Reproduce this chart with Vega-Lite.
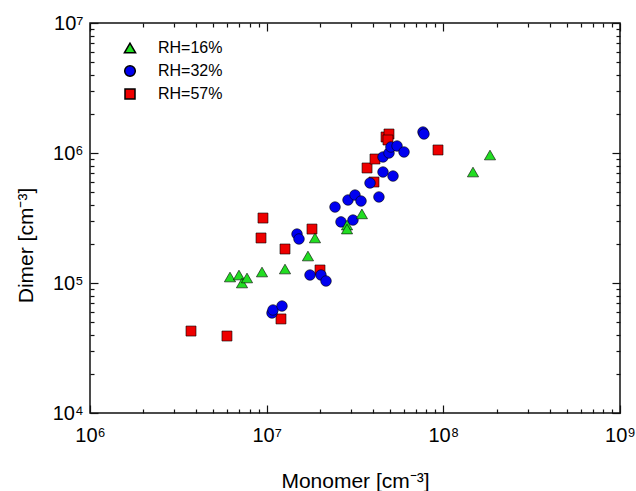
{
  "$schema": "https://vega.github.io/schema/vega-lite/v6.json",
  "width": 530,
  "height": 390,
  "autosize": "none",
  "padding": {"left": 90, "top": 23, "right": 16, "bottom": 78},
  "background": "white",
  "config": {
    "view": {"stroke": "#111", "strokeWidth": 1.5},
    "axis": {"grid": false, "domain": false, "tickColor": "#111", "tickWidth": 1.2, "labelFont": "Liberation Sans", "titleFont": "Liberation Sans", "labelColor": "#000", "titleColor": "#000", "labelFlush": false, "labelOverlap": false}
  },
  "datasets": {
    "pts": [
      {"rh": "RH=57%", "monomer": 3.73e6, "dimer": 4.27e4},
      {"rh": "RH=57%", "monomer": 5.96e6, "dimer": 3.91e4},
      {"rh": "RH=57%", "monomer": 9.29e6, "dimer": 2.22e5},
      {"rh": "RH=57%", "monomer": 9.53e6, "dimer": 3.16e5},
      {"rh": "RH=57%", "monomer": 1.205e7, "dimer": 5.29e4},
      {"rh": "RH=57%", "monomer": 1.27e7, "dimer": 1.826e5},
      {"rh": "RH=57%", "monomer": 1.805e7, "dimer": 2.6e5},
      {"rh": "RH=57%", "monomer": 2.004e7, "dimer": 1.259e5},
      {"rh": "RH=57%", "monomer": 3.7e7, "dimer": 7.67e5},
      {"rh": "RH=57%", "monomer": 4.104e7, "dimer": 8.99e5},
      {"rh": "RH=57%", "monomer": 4.05e7, "dimer": 5.98e5},
      {"rh": "RH=57%", "monomer": 4.74e7, "dimer": 1.328e6},
      {"rh": "RH=57%", "monomer": 4.925e7, "dimer": 1.4e6},
      {"rh": "RH=57%", "monomer": 4.86e7, "dimer": 1.259e6},
      {"rh": "RH=57%", "monomer": 9.33e7, "dimer": 1.055e6},
      {"rh": "RH=32%", "monomer": 1.072e7, "dimer": 5.88e4},
      {"rh": "RH=32%", "monomer": 1.086e7, "dimer": 6.2e4},
      {"rh": "RH=32%", "monomer": 1.221e7, "dimer": 6.65e4},
      {"rh": "RH=32%", "monomer": 1.485e7, "dimer": 2.38e5},
      {"rh": "RH=32%", "monomer": 1.524e7, "dimer": 2.18e5},
      {"rh": "RH=32%", "monomer": 1.759e7, "dimer": 1.152e5},
      {"rh": "RH=32%", "monomer": 2.03e7, "dimer": 1.152e5},
      {"rh": "RH=32%", "monomer": 2.167e7, "dimer": 1.036e5},
      {"rh": "RH=32%", "monomer": 2.437e7, "dimer": 3.84e5},
      {"rh": "RH=32%", "monomer": 2.634e7, "dimer": 2.95e5},
      {"rh": "RH=32%", "monomer": 3.08e7, "dimer": 3.05e5},
      {"rh": "RH=32%", "monomer": 2.887e7, "dimer": 4.35e5},
      {"rh": "RH=32%", "monomer": 3.162e7, "dimer": 4.75e5},
      {"rh": "RH=32%", "monomer": 3.42e7, "dimer": 4.27e5},
      {"rh": "RH=32%", "monomer": 3.845e7, "dimer": 5.88e5},
      {"rh": "RH=32%", "monomer": 4.32e7, "dimer": 4.59e5},
      {"rh": "RH=32%", "monomer": 4.555e7, "dimer": 7.14e5},
      {"rh": "RH=32%", "monomer": 5.19e7, "dimer": 6.65e5},
      {"rh": "RH=32%", "monomer": 4.555e7, "dimer": 9.32e5},
      {"rh": "RH=32%", "monomer": 4.925e7, "dimer": 1.0e6},
      {"rh": "RH=32%", "monomer": 5.05e7, "dimer": 1.112e6},
      {"rh": "RH=32%", "monomer": 5.47e7, "dimer": 1.132e6},
      {"rh": "RH=32%", "monomer": 5.99e7, "dimer": 1.018e6},
      {"rh": "RH=32%", "monomer": 7.67e7, "dimer": 1.45e6},
      {"rh": "RH=32%", "monomer": 7.77e7, "dimer": 1.4e6},
      {"rh": "RH=16%", "monomer": 6.2e6, "dimer": 1.112e5},
      {"rh": "RH=16%", "monomer": 6.97e6, "dimer": 1.152e5},
      {"rh": "RH=16%", "monomer": 7.25e6, "dimer": 1.0e5},
      {"rh": "RH=16%", "monomer": 7.74e6, "dimer": 1.093e5},
      {"rh": "RH=16%", "monomer": 9.41e6, "dimer": 1.215e5},
      {"rh": "RH=16%", "monomer": 1.27e7, "dimer": 1.281e5},
      {"rh": "RH=16%", "monomer": 1.713e7, "dimer": 1.613e5},
      {"rh": "RH=16%", "monomer": 1.877e7, "dimer": 2.22e5},
      {"rh": "RH=16%", "monomer": 2.85e7, "dimer": 2.79e5},
      {"rh": "RH=16%", "monomer": 2.85e7, "dimer": 2.6e5},
      {"rh": "RH=16%", "monomer": 3.46e7, "dimer": 3.4e5},
      {"rh": "RH=16%", "monomer": 1.472e8, "dimer": 7.14e5},
      {"rh": "RH=16%", "monomer": 1.837e8, "dimer": 9.65e5}
    ]
  },
  "data": {"name": "pts"},
  "resolve": {"axis": {"x": "independent", "y": "independent"}},
  "layer": [
    {
      "mark": {"type": "point", "filled": true, "opacity": 1, "stroke": "#000", "strokeWidth": 0.6},
      "encoding": {
        "x": {"field": "monomer", "type": "quantitative", "scale": {"type": "log", "domain": [1e6, 1e9], "nice": false},
          "axis": {"orient": "bottom", "values": [1e6, 1e7, 1e8, 1e9], "ticks": false, "labelFontSize": 20, "labelPadding": 12,
            "labelExpr": "datum.value == 1e6 ? '10⁶' : datum.value == 1e7 ? '10⁷' : datum.value == 1e8 ? '10⁸' : '10⁹'",
            "title": "Monomer [cm⁻³]", "titleFontSize": 21, "titleFontWeight": "normal", "titleX": 265, "titleY": 74, "titleBaseline": "alphabetic", "titleAlign": "center"}},
        "y": {"field": "dimer", "type": "quantitative", "scale": {"type": "log", "domain": [1e4, 1e7], "nice": false},
          "axis": {"orient": "left", "values": [1e4, 1e5, 1e6, 1e7], "ticks": false, "labelFontSize": 20, "labelPadding": 7,
            "labelExpr": "datum.value == 1e4 ? '10⁴' : datum.value == 1e5 ? '10⁵' : datum.value == 1e6 ? '10⁶' : '10⁷'",
            "title": "Dimer [cm⁻³]", "titleFontSize": 21, "titleFontWeight": "normal", "titleX": -58, "titleY": 222, "titleAngle": 270, "titleBaseline": "alphabetic", "titleAlign": "center"}},
        "shape": {"field": "rh", "type": "nominal", "scale": {"domain": ["RH=16%", "RH=32%", "RH=57%"], "range": ["triangle-up", "circle", "square"]},
          "legend": {"title": null, "orient": "none", "legendX": 32, "legendY": 17, "labelFontSize": 16, "labelFont": "Liberation Sans", "labelColor": "#000", "symbolSize": 90, "rowPadding": 6, "labelOffset": 20, "padding": 0}},
        "color": {"field": "rh", "type": "nominal", "scale": {"domain": ["RH=16%", "RH=32%", "RH=57%"], "range": ["#22dd22", "#0000f0", "#ee0000"]},
          "legend": {"title": null, "orient": "none", "legendX": 32, "legendY": 17, "labelFontSize": 16, "labelFont": "Liberation Sans", "labelColor": "#000", "symbolSize": 90, "rowPadding": 6, "labelOffset": 20, "padding": 0}},
        "size": {"field": "rh", "type": "ordinal", "scale": {"domain": ["RH=16%", "RH=32%", "RH=57%"], "range": [125, 100, 80]}, "legend": null}
      }
    },
    {
      "mark": {"type": "point", "opacity": 0},
      "encoding": {
        "x": {"field": "monomer", "type": "quantitative", "scale": {"type": "log", "domain": [1e6, 1e9], "nice": false},
          "axis": {"orient": "bottom", "values": [1e6, 1e7, 1e8, 1e9], "labels": false, "tickSize": -8, "title": null}},
        "y": {"field": "dimer", "type": "quantitative", "scale": {"type": "log", "domain": [1e4, 1e7], "nice": false},
          "axis": {"orient": "left", "values": [1e4, 1e5, 1e6, 1e7], "labels": false, "tickSize": -8, "title": null}}
      }
    },
    {
      "mark": {"type": "point", "opacity": 0},
      "encoding": {
        "x": {"field": "monomer", "type": "quantitative", "scale": {"type": "log", "domain": [1e6, 1e9], "nice": false},
          "axis": {"orient": "bottom", "values": [2e6, 3e6, 4e6, 5e6, 6e6, 7e6, 8e6, 9e6, 2e7, 3e7, 4e7, 5e7, 6e7, 7e7, 8e7, 9e7, 2e8, 3e8, 4e8, 5e8, 6e8, 7e8, 8e8, 9e8], "labels": false, "tickSize": -4, "title": null}},
        "y": {"field": "dimer", "type": "quantitative", "scale": {"type": "log", "domain": [1e4, 1e7], "nice": false},
          "axis": {"orient": "left", "values": [2e4, 3e4, 4e4, 5e4, 6e4, 7e4, 8e4, 9e4, 2e5, 3e5, 4e5, 5e5, 6e5, 7e5, 8e5, 9e5, 2e6, 3e6, 4e6, 5e6, 6e6, 7e6, 8e6, 9e6], "labels": false, "tickSize": -4, "title": null}}
      }
    },
    {
      "mark": {"type": "point", "opacity": 0},
      "encoding": {
        "x": {"field": "monomer", "type": "quantitative", "scale": {"type": "log", "domain": [1e6, 1e9], "nice": false},
          "axis": {"orient": "top", "values": [1e6, 1e7, 1e8, 1e9], "labels": false, "tickSize": -8, "title": null}},
        "y": {"field": "dimer", "type": "quantitative", "scale": {"type": "log", "domain": [1e4, 1e7], "nice": false},
          "axis": {"orient": "right", "values": [1e4, 1e5, 1e6, 1e7], "labels": false, "tickSize": -8, "title": null}}
      }
    },
    {
      "mark": {"type": "point", "opacity": 0},
      "encoding": {
        "x": {"field": "monomer", "type": "quantitative", "scale": {"type": "log", "domain": [1e6, 1e9], "nice": false},
          "axis": {"orient": "top", "values": [2e6, 3e6, 4e6, 5e6, 6e6, 7e6, 8e6, 9e6, 2e7, 3e7, 4e7, 5e7, 6e7, 7e7, 8e7, 9e7, 2e8, 3e8, 4e8, 5e8, 6e8, 7e8, 8e8, 9e8], "labels": false, "tickSize": -4, "title": null}},
        "y": {"field": "dimer", "type": "quantitative", "scale": {"type": "log", "domain": [1e4, 1e7], "nice": false},
          "axis": {"orient": "right", "values": [2e4, 3e4, 4e4, 5e4, 6e4, 7e4, 8e4, 9e4, 2e5, 3e5, 4e5, 5e5, 6e5, 7e5, 8e5, 9e5, 2e6, 3e6, 4e6, 5e6, 6e6, 7e6, 8e6, 9e6], "labels": false, "tickSize": -4, "title": null}}
      }
    }
  ]
}
